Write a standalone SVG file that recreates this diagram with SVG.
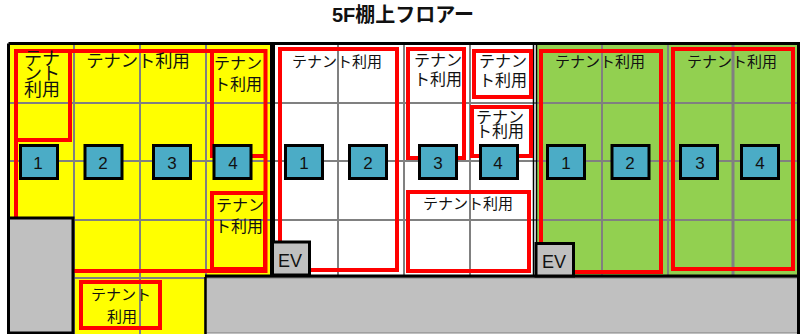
<svg xmlns="http://www.w3.org/2000/svg" width="800" height="334" viewBox="0 0 800 334">
<style>
text{font-family:"Liberation Sans","Noto Sans CJK JP",sans-serif;fill:#111;text-anchor:middle}
.t{font-size:15px}
.g{stroke:#808080;stroke-width:2;fill:none}
.r{stroke:#f00;stroke-width:4;fill:none}
.k{stroke:#000;stroke-width:3;fill:none}
.s{fill:#c0c0c0;stroke:#000;stroke-width:3}
.n{fill:#4bacc6;stroke:#000;stroke-width:3}
.l{font-size:17px}
.e{font-size:18px}
.m{font-size:16px}
.b{font-size:18px}
</style>
<rect width="800" height="334" fill="#fff"/>
<g id="floors">
<path d="M9 44H272V278H205V334H9Z" fill="#ff0"/>
<rect x="273" y="44" width="262" height="232" fill="#fff"/>
<rect x="537" y="44" width="261" height="233" fill="#92d050"/>
</g>
<g id="grid" class="g">
<path d="M74 44V334M140 44V334M206 44V276M338 44V276M404 44V276M470 44V276M602 44V276M668 44V276"/>
<path d="M733 44V276" stroke-width="3"/>
<path d="M9 103H798M9 161H798M9 220H798M74 278H205"/>
</g>
<g id="walls" class="k">
<path d="M8.500 43.500H798.500V277M8.500 43.500V220"/>
<path d="M272.500 44V276" stroke-width="5"/>
<path d="M533.500 44V276" stroke-width="1.500"/>
<path d="M536.500 44V276" stroke-width="1.500"/>
<path d="M205 276.500H798" stroke-width="4"/>
</g>
<g id="connectors" class="r">
<path d="M16 218V51H265.500V271H74"/>
<path d="M16 140H70V51"/>
<path d="M212 51V156H265.500"/>
</g>
<g id="core-left"><rect class="s" x="8.500" y="218" width="64.500" height="115"/></g>
<g id="core-bottom"><rect x="205" y="278" width="593" height="55" fill="#c0c0c0" stroke="#808080" stroke-width="1"/><path d="M205.500 277V334" stroke="#000" stroke-width="2.500"/><path d="M798.500 277V334" stroke="#000" stroke-width="3"/></g>
<g id="y1"><text class="t b" x="42" y="65">テナ</text><text class="t b" x="42" y="80">ント</text><text class="t b" x="42" y="96">利用</text></g>
<g id="y2"><text class="t" x="138" y="67" style="font-size:17.300px">テナント利用</text></g>
<g id="y3"><text class="t m" x="238" y="69">テナン</text><text class="t m" x="238" y="90">ト利用</text></g>
<g id="y4"><rect class="r" x="212" y="193" width="53" height="76"/><text class="t m" x="240" y="211">テナン</text><text class="t m" x="239" y="232">ト利用</text></g>
<g id="y5"><rect class="r" x="81" y="282" width="79" height="46"/><text class="t" x="121" y="300">テナント</text><text class="t" x="122" y="322">利用</text></g>
<g id="w1"><path class="r" d="M310 270H397V49H280V242"/><text class="t" x="337" y="67">テナント利用</text></g>
<g id="w2"><rect class="r" x="408" y="49" width="56" height="109"/><text class="t m" x="438" y="66">テナン</text><text class="t m" x="438" y="85">ト利用</text></g>
<g id="w3"><rect class="r" x="474" y="51" width="57" height="46"/><text class="t m" x="503" y="67">テナン</text><text class="t m" x="503" y="86">ト利用</text></g>
<g id="w4"><rect class="r" x="472" y="107" width="59" height="49"/><text class="t m" x="500" y="123">テナン</text><text class="t m" x="500" y="137">ト利用</text></g>
<g id="w5"><rect class="r" x="408" y="192" width="121" height="79"/><text class="t" x="468" y="209">テナント利用</text></g>
<g id="g1"><path class="r" d="M574 272H661V51H541V243"/><text class="t" x="600" y="67">テナント利用</text></g>
<g id="g2"><rect class="r" x="673" y="49" width="120" height="220"/><text class="t" x="732" y="67">テナント利用</text></g>
<g id="ev1"><rect class="s" x="272.500" y="242" width="37" height="33"/><text class="e" x="290" y="267">EV</text></g>
<g id="ev2"><rect class="s" x="536" y="243.500" width="37.500" height="32.500"/><text class="e" x="554" y="268">EV</text></g>
<g id="a1"><rect class="n" x="20.500" y="145.500" width="37" height="33"/><text class="l" x="38" y="169">1</text></g>
<g id="a2"><rect class="n" x="85" y="145.500" width="37" height="33"/><text class="l" x="103" y="169">2</text></g>
<g id="a3"><rect class="n" x="153.500" y="145.500" width="37" height="33"/><text class="l" x="172" y="169">3</text></g>
<g id="a4"><rect class="n" x="214" y="145.500" width="37" height="33"/><text class="l" x="233" y="169">4</text></g>
<g id="b1"><rect class="n" x="285.500" y="145.500" width="37" height="33"/><text class="l" x="304" y="169">1</text></g>
<g id="b2"><rect class="n" x="349.500" y="145.500" width="37" height="33"/><text class="l" x="368" y="169">2</text></g>
<g id="b3"><rect class="n" x="419.500" y="145.500" width="37" height="33"/><text class="l" x="438" y="169">3</text></g>
<g id="b4"><rect class="n" x="480.500" y="145.500" width="37" height="33"/><text class="l" x="498" y="169">4</text></g>
<g id="c1"><rect class="n" x="547.500" y="145.500" width="37" height="33"/><text class="l" x="566" y="169">1</text></g>
<g id="c2"><rect class="n" x="612" y="145.500" width="37" height="33"/><text class="l" x="630" y="169">2</text></g>
<g id="c3"><rect class="n" x="680.500" y="145.500" width="37" height="33"/><text class="l" x="700" y="169">3</text></g>
<g id="c4"><rect class="n" x="741.500" y="145.500" width="37" height="33"/><text class="l" x="760" y="169">4</text></g>
<text x="403" y="22" style="font-weight:700;font-size:20px">5F棚上フロアー</text>
</svg>
